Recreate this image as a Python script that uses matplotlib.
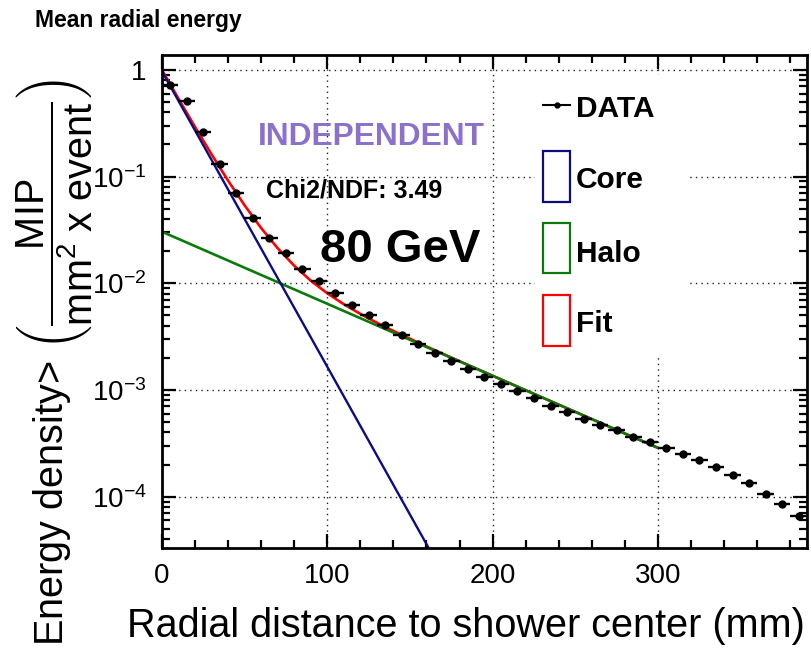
import matplotlib
matplotlib.use("Agg")
import matplotlib.pyplot as plt
from matplotlib.patches import Rectangle
from matplotlib.lines import Line2D
from matplotlib.ticker import FixedLocator, FuncFormatter, LogLocator, NullFormatter, MultipleLocator

plt.rcParams["font.family"] = ["Liberation Sans", "DejaVu Sans"]
plt.rcParams["mathtext.fontset"] = "custom"
plt.rcParams["mathtext.rm"] = "Liberation Sans"
plt.rcParams["mathtext.it"] = "Liberation Sans:italic"
plt.rcParams["mathtext.bf"] = "Liberation Sans:bold"

# radial bins (mm) and mean energy density
radius = [5, 15, 25, 35, 45, 55, 65, 75, 85, 95,
          105, 115, 125, 135, 145, 155, 165, 175, 185, 195,
          205, 215, 225, 235, 245, 255, 265, 275, 285, 295,
          305, 315, 325, 335, 345, 355, 365, 375, 385]
density = [0.72, 0.514, 0.264, 0.132, 0.0703, 0.0406, 0.0268, 0.0191, 0.0137, 0.01057,
           0.0081, 0.0063, 0.0050, 0.0041, 0.00327, 0.00272, 0.00221, 0.00185, 0.00157, 0.00133,
           0.00114, 0.00097, 0.000835, 0.000713, 0.000627, 0.000536, 0.000474, 0.000417, 0.000366, 0.000325,
           0.000286, 0.000251, 0.000219, 0.00019, 0.000161, 0.000133, 0.000107, 0.0000845, 0.000066]
bin_half = 5

# fit components (straight lines on a log axis)
core_x = [0, 170]
core_y = [0.98, 1.9e-5]
halo_x = [0, 300]
halo_y = [0.0305, 2.86e-4]
fit_x = [0, 10, 20, 30, 40, 50, 60, 70, 80, 90, 100, 110, 120, 130, 140, 160, 180, 200, 220, 240, 260, 280, 300]
fit_y = [1.01, 0.543, 0.295, 0.163, 0.0923, 0.0541, 0.0331, 0.0214, 0.01467, 0.01061, 0.00807, 0.00637,
         0.00517, 0.00427, 0.00358, 0.00256, 0.00186, 0.00136, 0.000993, 0.000727, 0.000533, 0.00039, 0.000286]

y_ticks = [1e-4, 1e-3, 1e-2, 1e-1, 1]
y_tick_labels = [r"$10^{-4}$", r"$10^{-3}$", r"$10^{-2}$", r"$10^{-1}$", "1"]
x_ticks = [0, 100, 200, 300]

CORE_COLOR = "#0c0c80"
HALO_COLOR = "#0b7a0b"
FIT_COLOR = "#ff0000"
LABEL_PURPLE = "#8b70cc"

W, H = 811, 665


def fx(px):
    return px / W


def fy(py):
    return 1 - py / H


fig = plt.figure(figsize=(W / 100, H / 100), dpi=100)
ax = fig.add_axes([fx(161.7), fy(548), fx(807) - fx(161.7), fy(55) - fy(548)])
ax.set_yscale("log")
ax.set_xlim(0, 390)
ax.set_ylim(3.3e-5, 1.38)
ax.set_axisbelow(True)

ax.plot(fit_x, fit_y, color=FIT_COLOR, lw=1.9, zorder=2)
ax.plot(core_x, core_y, color=CORE_COLOR, lw=1.7, zorder=2.2)
ax.plot(halo_x, halo_y, color=HALO_COLOR, lw=1.9, zorder=2.1)
ax.errorbar(radius, density, xerr=bin_half, fmt="o", color="black", ms=5,
            elinewidth=1.7, capsize=0, zorder=3)

# axes cosmetics, ROOT style
ax.xaxis.set_major_locator(FixedLocator(x_ticks))
ax.xaxis.set_minor_locator(MultipleLocator(20))
ax.yaxis.set_major_locator(FixedLocator(y_ticks))
ax.yaxis.set_major_formatter(FuncFormatter(lambda v, p: y_tick_labels[y_ticks.index(v)] if v in y_ticks else ""))
ax.yaxis.set_minor_locator(LogLocator(base=10, subs=range(2, 10), numticks=20))
ax.yaxis.set_minor_formatter(NullFormatter())
ax.tick_params(which="both", direction="in", top=True, right=True, width=1.6, colors="black")
ax.tick_params(which="major", length=10, labelsize=20, pad=11)
ax.tick_params(which="minor", length=5.5)
for spine in ax.spines.values():
    spine.set_linewidth(2)
ax.grid(which="major", color="#222222", linestyle=(0, (1, 3)), linewidth=1)

# white legend box hiding the grid
ax.add_patch(Rectangle((fx(535), fy(357)), fx(688) - fx(535), fy(75) - fy(357),
                       transform=fig.transFigure, facecolor="white", edgecolor="none", zorder=1))

# legend entries
fig.add_artist(Line2D([fx(543), fx(570)], [fy(105), fy(105)], color="black", lw=1.5))
fig.add_artist(Line2D([fx(556.5)], [fy(105)], marker="o", color="black", ms=3.5))
fig.text(fx(576), fy(117), "DATA", fontsize=21.5, fontweight="bold", va="baseline")
legend_rows = [("Core", CORE_COLOR, 150.7, 202.3, 188), ("Halo", HALO_COLOR, 222.7, 273.3, 261.7),
               ("Fit", FIT_COLOR, 295, 345.7, 331.7)]
for name, color, top, bottom, base in legend_rows:
    fig.add_artist(Rectangle((fx(543), fy(bottom)), fx(570) - fx(543), fy(top) - fy(bottom),
                             transform=fig.transFigure, facecolor="none", edgecolor=color, lw=1.6))
    fig.text(fx(576), fy(base), name, fontsize=21.5, fontweight="bold", va="baseline")

# annotations
fig.text(fx(35), fy(27), "Mean radial energy", fontsize=16.5, fontweight="bold", va="baseline")
fig.text(fx(258), fy(145), "INDEPENDENT", fontsize=22.8, fontweight="bold", color=LABEL_PURPLE, va="baseline")
fig.text(fx(266), fy(197), "Chi2/NDF: 3.49", fontsize=18, fontweight="bold", va="baseline")
fig.text(fx(320), fy(262), "80 GeV", fontsize=34, fontweight="bold", va="baseline")

# axis titles
fig.text(fx(805), fy(637), "Radial distance to shower center (mm)", fontsize=28.5, ha="right", va="baseline")
fig.text(fx(55), fy(362),
         r"Energy density> $\left(\dfrac{\mathrm{MIP}}{\mathrm{mm^{2}\ x\ event}}\right)$",
         fontsize=28.5, rotation=90, ha="center", va="center")

fig.savefig("out.png", dpi=100)
